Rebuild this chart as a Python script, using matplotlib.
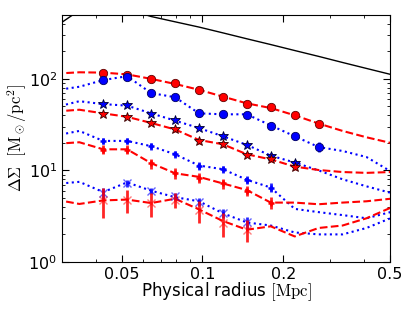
import numpy as np
import matplotlib
matplotlib.use("Agg")
import matplotlib.pyplot as plt
from matplotlib.ticker import FixedLocator, FixedFormatter, LogLocator, NullFormatter

plt.rcParams['mathtext.fontset'] = 'cm'
plt.rcParams['font.family'] = 'DejaVu Sans'

# radial bins of the measurements
r_data = [0.0427, 0.0524, 0.0644, 0.0791, 0.0971, 0.1192, 0.1464, 0.1797, 0.2207, 0.2710]
# radial nodes of the model curves
r_model = [0.0283, 0.0348, 0.0427, 0.0524, 0.0644, 0.0791, 0.0971, 0.1192,
           0.1464, 0.1797, 0.2207, 0.2710, 0.3327, 0.4085, 0.5015]

# black reference curve
black_model = [370, 560, 620, 580, 480, 420, 368, 318, 274, 237, 204, 176, 151, 130, 112]

# circles
red_circ = [115, 111, 99, 89, 75, 64, 53, 49, 40, 32]
red_circ_err = [4, 4, 3.5, 3, 2.7, 2.4, 2.1, 2, 1.8, 1.6]
red_circ_model = [114, 118, 117, 112, 100, 88, 76, 64, 54, 48, 40, 32.5, 27, 23, 20]
blue_circ = [97.5, 105, 70, 63, 42, 41, 40.6, 30.9, 23.6, 18]
blue_circ_err = [7, 6, 5, 4.5, 3.5, 3.2, 3, 2.5, 2.2, 2.3]
blue_circ_model = [75, 82, 97, 107, 70, 63, 42, 41, 41, 31, 23.6, 18, 16.3, 14, 9.8]

# stars
blue_star = [52.6, 51.3, 41.7, 35.2, 29.1, 23.6, 18.9, 14.4, 12.2]
blue_star_err = [2.5, 2.2, 2, 1.8, 1.5, 1.3, 1.1, 1.0, 0.9]
blue_star_model = [49, 57, 53, 51, 42, 35, 29, 23.6, 19, 14.5, 12.2, 10.0, 8.0, 6.7, 5.7]
red_star = [41.7, 38.3, 33, 28.1, 20.8, 19.3, 14.9, 13.2, 11]
red_star_err = [2.2, 2, 1.8, 1.5, 1.3, 1.1, 1, 0.9, 0.8]
red_star_model = [44, 46, 42, 38.5, 33, 28, 21.5, 19.3, 15, 13.2, 11, 10.1, 9.6, 9.4, 9.6]

# plus markers
blue_plus = [21, 21, 18.4, 15, 11.2, 10.3, 7.85, 6.5]
blue_plus_err = [1.8, 1.8, 1.5, 1.3, 1.1, 0.9, 0.8, 0.7]
blue_plus_model = [24, 27, 21, 21, 18.4, 15, 11.3, 10.3, 7.9, 6.5, 3.8, 3.5, 3.25, 3.0, 3.5]
red_plus = [16.9, 16.9, 11.9, 9.3, 8.3, 7.2, 6.0, 4.45]
red_plus_err = [1.9, 1.9, 1.5, 1.2, 1.0, 0.9, 0.8, 0.7]
red_plus_model = [19.5, 20.3, 17, 17, 12, 9.3, 8.5, 7.2, 6.1, 4.45, 4.45, 4.27, 4.45, 4.6, 4.9]

# crosses
blue_x = [5.7, 7.3, 6.0, 5.2, 4.57, 3.4, 2.7]
blue_x_err = [0.8, 0.65, 0.5, 0.5, 0.45, 0.4, 0.4]
blue_x_model = [7.1, 7.5, 5.8, 7.4, 6.0, 5.1, 4.6, 3.4, 2.7, 2.5, 2.1, 2.0, 2.0, 2.35, 3.0]
red_x = [4.7, 4.76, 4.4, 4.76, 3.65, 2.65, 2.25]
red_x_err = [1.7, 1.3, 1.3, 0.85, 1.0, 0.8, 0.6]
red_x_model = [4.8, 4.3, 4.7, 4.8, 4.4, 4.9, 3.75, 2.8, 2.25, 2.45, 1.9, 2.35, 2.5, 3.0, 3.9]

fig = plt.figure(figsize=(4.11, 3.10), dpi=100)
ax = fig.add_axes([0.151, 0.155, 0.798, 0.797])

ax.plot(r_model, black_model, 'k-', lw=1)

def points(vals, err, color, marker, ms, mec, mew=0.6, malpha=1.0):
    n = len(vals)
    ax.errorbar(r_data[:n], vals, yerr=err, fmt='none', ecolor=color,
                elinewidth=2, capsize=0, alpha=0.85)
    ax.plot(r_data[:n], vals, linestyle='none', marker=marker, ms=ms,
            mfc=color, mec=mec, mew=mew, alpha=malpha)

# model lines
ax.plot(r_model, red_circ_model, 'r--', lw=1.5)
ax.plot(r_model, blue_circ_model, 'b:', lw=1.5)
ax.plot(r_model, blue_star_model, 'b:', lw=1.5)
ax.plot(r_model, red_star_model, 'r--', lw=1.5)
ax.plot(r_model, blue_plus_model, 'b:', lw=1.5)
ax.plot(r_model, red_plus_model, 'r--', lw=1.5)
ax.plot(r_model, blue_x_model, 'b:', lw=1.5)
ax.plot(r_model, red_x_model, 'r--', lw=1.5)

# measurements
points(red_circ, red_circ_err, 'r', 'o', 6, '#600000')
points(blue_circ, blue_circ_err, 'b', 'o', 6, '#000060')
points(blue_star, blue_star_err, 'b', '*', 7, '#000030')
points(red_star, red_star_err, 'r', '*', 7, '#300000')
points(blue_plus, blue_plus_err, 'b', '+', 5, 'b', mew=1.8)
points(red_plus, red_plus_err, 'r', '+', 5, 'r', mew=1.8)
points(blue_x, blue_x_err, 'b', 'x', 6, 'b', mew=1, malpha=0.6)
points(red_x, red_x_err, 'r', 'x', 6, 'r', mew=1, malpha=0.5)

ax.set_xscale('log')
ax.set_yscale('log')
ax.set_xlim(0.03, 0.5)
ax.set_ylim(1, 500)

ax.xaxis.set_major_locator(FixedLocator([0.05, 0.1, 0.2, 0.5]))
ax.xaxis.set_major_formatter(FixedFormatter(['0.05', '0.1', '0.2', '0.5']))
ax.xaxis.set_minor_locator(LogLocator(base=10, subs=np.arange(1, 10)))
ax.xaxis.set_minor_formatter(NullFormatter())
ax.yaxis.set_minor_locator(LogLocator(base=10, subs=np.arange(2, 10)))
ax.yaxis.set_minor_formatter(NullFormatter())

ax.tick_params(which='both', direction='in', top=True, right=True, labelsize=11.5)
ax.tick_params(which='major', length=5)
ax.tick_params(which='minor', length=2.5)

ax.set_xlabel(r'Physical radius $[\mathrm{Mpc}]$', fontsize=12, labelpad=-1)
ax.set_ylabel(r'$\Delta\Sigma\ \ [\mathrm{M_\odot/pc^2}]$', fontsize=12)
ax.yaxis.set_label_coords(-0.10, 0.5)

fig.savefig('out.png', dpi=100)
